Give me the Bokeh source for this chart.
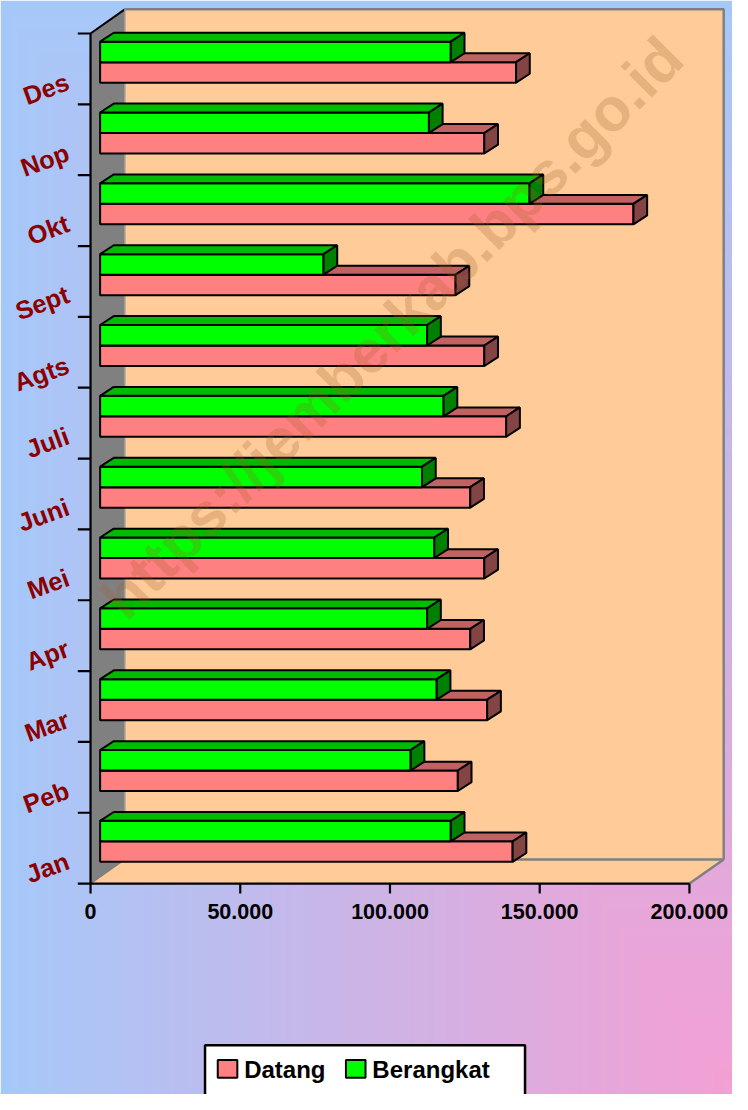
import numpy as np
from bokeh.plotting import figure
from bokeh.models import Range1d
from bokeh.embed import file_html
from bokeh.resources import INLINE
from bokeh.core.properties import value

# ---------------- data ----------------
months = ["Jan", "Peb", "Mar", "Apr", "Mei", "Juni", "Juli", "Agts", "Sept", "Okt", "Nop", "Des"]
datang = [137750, 119450, 129250, 123600, 128300, 123600, 135600, 128300, 118700, 178100, 128300, 138900]
berangkat = [117100, 103700, 112400, 109200, 111600, 107500, 114700, 109200, 74600, 143400, 109800, 117100]
series_names = ["Datang", "Berangkat"]
x_ticks = [0, 50000, 100000, 150000, 200000]
x_tick_labels = ["0", "50.000", "100.000", "150.000", "200.000"]
watermark = "https://jemberkab.bps.go.id"

# ---------------- geometry ----------------
# layout is designed on a 748x1110 canvas and scaled to fit the page
RW, RH = 748.0, 1110.0
W, H = 732, 1094
SX, SY = W / RW, H / RH
X0 = 92.0                 # design px of value 0 on front plane
XS = 153.0 / 50000.0      # design px per unit
YB = 896.0                # design px of front-plane bottom
BAND = 71.875             # design px per category
N = len(months)
XMAX = x_ticks[-1]

def dx(px):
    return px / XS

def dy(px):
    return px / BAND

def fx(px):
    return (px - X0) / XS

def fy(px):
    return (YB - px) / BAND

def fs(px):
    return "%.1fpx" % (px * SX)

x_start, x_end = fx(0), fx(RW)
y_start, y_end = fy(RH), fy(0)

p = figure(width=W, height=H, output_backend="svg", toolbar_location=None,
           x_range=Range1d(x_start, x_end), y_range=Range1d(y_start, y_end),
           x_axis_type=None, y_axis_type=None, min_border=0,
           min_border_left=0, min_border_right=0, min_border_top=0, min_border_bottom=0)
p.outline_line_color = None
p.xgrid.visible = False
p.ygrid.visible = False
p.border_fill_color = None
p.background_fill_color = None

# ---------------- background gradient (from bottom-right corner) ----------------
gw, gh = 374, 555
cx = (np.arange(gw) + 0.5) * RW / gw
cy = (np.arange(gh) + 0.5) * RH / gh
CX, CY = np.meshgrid(cx, cy)
t = np.clip(np.maximum((RW - CX) / RW, (RH - CY) / RH), 0, 1)
blue = np.array([166, 201, 250])
pink = np.array([244, 160, 212])
r = (pink[0] + (blue[0] - pink[0]) * t).astype(np.uint32)
g = (pink[1] + (blue[1] - pink[1]) * t).astype(np.uint32)
b = (pink[2] + (blue[2] - pink[2]) * t).astype(np.uint32)
img = ((255 << 24) | (b << 16) | (g << 8) | r).astype(np.uint32)
img = np.flipud(img).copy()
p.image_rgba(image=[img], x=x_start, y=y_start, dw=x_end - x_start, dh=y_end - y_start)

# ---------------- walls ----------------
WDX, WDY = dx(35), dy(24.5)
GREY = "#808080"
PEACH = "#ffcc99"
p.patch([WDX, XMAX + WDX, XMAX + WDX, WDX], [WDY, WDY, N + WDY, N + WDY],
        fill_color=PEACH, line_color=None)
p.patch([0, XMAX, XMAX + WDX, WDX], [0, 0, WDY, WDY], fill_color=PEACH, line_color=None)
p.patch([0, WDX, WDX, 0], [0, WDY, N + WDY, N], fill_color=GREY, line_color=None)
p.line([WDX, XMAX + WDX, XMAX + WDX], [N + WDY, N + WDY, WDY], line_color=GREY, line_width=2.5)
p.line([WDX, XMAX + WDX], [WDY, WDY], line_color=GREY, line_width=2.5)
p.line([XMAX, XMAX + WDX], [0, WDY], line_color=GREY, line_width=2.5)
p.line([0, WDX], [0, WDY], line_color=GREY, line_width=1.5)
p.line([0, WDX], [N, N + WDY], line_color="black", line_width=2)
p.line([WDX, WDX], [WDY, N + WDY], line_color="#9a9a9a", line_width=1.5)

# ---------------- 3D bars ----------------
FDX, FDY = dx(9.8), dy(6.9)
BDX, BDY = dx(14), dy(9.0)
BH = dy(20.8)
styles = [("#ff8080", "#c06262", "#844444"), ("#00ff00", "#00bb00", "#008000")]
for k, vals in enumerate([datang, berangkat]):
    fxs, fys, txs, tys, sxs, sys_ = [], [], [], [], [], []
    for i, v in enumerate(vals):
        yc = i + 0.5 + FDY
        y0, y1 = (yc - BH, yc) if k == 0 else (yc, yc + BH)
        x0, x1 = FDX, FDX + v
        fxs.append([x0, x1, x1, x0]); fys.append([y0, y0, y1, y1])
        txs.append([x0, x1, x1 + BDX, x0 + BDX]); tys.append([y1, y1, y1 + BDY, y1 + BDY])
        sxs.append([x1, x1 + BDX, x1 + BDX, x1]); sys_.append([y0, y0 + BDY, y1 + BDY, y1])
    front, top, side = styles[k]
    p.patches(fxs, fys, fill_color=front, line_color="black", line_width=2)
    p.patches(txs, tys, fill_color=top, line_color="black", line_width=2)
    p.patches(sxs, sys_, fill_color=side, line_color="black", line_width=2)

# ---------------- axes ----------------
p.line([0, 0], [0, N], line_color="black", line_width=2.2)
p.line([0, XMAX], [0, 0], line_color="black", line_width=2.2)
cats = list(range(N + 1))
p.segment(x0=[dx(-13)] * len(cats), y0=cats, x1=[0] * len(cats), y1=cats,
          line_color="black", line_width=2.2)
p.segment(x0=x_ticks, y0=[0] * len(x_ticks), x1=x_ticks, y1=[dy(-10)] * len(x_ticks),
          line_color="black", line_width=2.2)
p.text(x=x_ticks, y=[dy(-28)] * len(x_ticks), text=x_tick_labels,
       text_font=value("Liberation Sans"), text_font_style="bold", text_font_size=fs(22),
       text_align="center", text_baseline="middle", text_color="black")
p.text(x=[dx(-23)] * N, y=[i + 0.5 - dy(12) for i in range(N)], text=months,
       angle=np.deg2rad(20), text_font=value("Liberation Sans"), text_font_style="bold",
       text_font_size=fs(26), text_align="right", text_baseline="middle", text_color="#8b0000")

# ---------------- watermark ----------------
p.text(x=[fx(400)], y=[fy(332)], text=[watermark], angle=np.pi / 4,
       text_font=value("Liberation Sans"), text_font_style="bold", text_font_size=fs(62),
       text_align="center", text_baseline="middle", text_color="#a0602a", text_alpha=0.25)

# ---------------- legend ----------------
p.patch([fx(209), fx(536), fx(536), fx(209)], [fy(1060), fy(1060), fy(1125), fy(1125)],
        fill_color="white", line_color="black", line_width=2.5)
sw_left = [222, 353]
txt_left = [249, 380]
for k, name in enumerate(series_names):
    col = styles[k][0]
    xl = sw_left[k]
    p.patch([fx(xl), fx(xl + 20), fx(xl + 20), fx(xl)], [fy(1075), fy(1075), fy(1093), fy(1093)],
            fill_color=col, line_color="black", line_width=2)
    p.text(x=[fx(txt_left[k])], y=[fy(1085)], text=[name], text_font=value("Liberation Sans"),
           text_font_style="bold", text_font_size=fs(24.5), text_align="left",
           text_baseline="middle", text_color="black")

open("out.html", "w").write(file_html(p, INLINE))
